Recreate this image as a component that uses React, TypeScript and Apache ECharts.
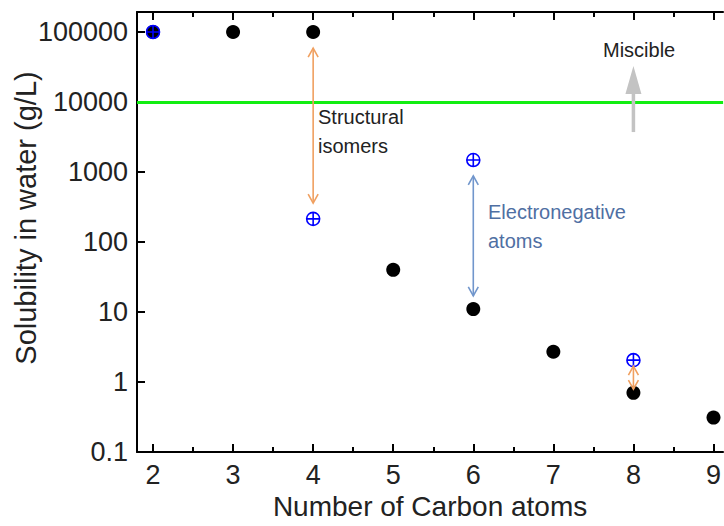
import React, { useEffect, useRef } from "react";
import * as echarts from "echarts";

// ---- data ----
const carbons = [2, 3, 4, 5, 6, 7, 8, 9];
const alcoholSolubility = [100000, 100000, 100000, 40, 11, 2.7, 0.7, 0.31];
const isomerCarbons = [2, 4, 6, 8];
const isomerSolubility = [100000, 214, 1480, 2.05];
const miscibleLimit = 10000;
const xTickValues = [2, 3, 4, 5, 6, 7, 8, 9];
const xMinorTickValues = [2.5, 3.5, 4.5, 5.5, 6.5, 7.5, 8.5];
const yTickValues = [0.1, 1, 10, 100, 1000, 10000, 100000];
const xMin = 1.8;
const xMax = 9.12;
const yMin = 0.1;
const yMax = 193000;
// arrows: carbon number, upper end, lower end
const arrowX = [4, 6, 8, 8];
const arrowTop = [59000, 877, 1.69, 32700];
const arrowBottom = [360, 17, 0.79, 3720];
const arrowKinds = ["orange", "blue", "orange", "grey"];

const FONT = "'Liberation Sans', Arial, sans-serif";
const lg = (v: number) => Math.log10(v);

export default function App() {
  const ref = useRef<HTMLDivElement>(null);
  useEffect(() => {
    if (!ref.current) return;
    const chart = echarts.init(ref.current, null, { renderer: "svg" });
    const fmtY = (v: number) => {
      const val = yTickValues.find((t) => Math.abs(lg(t) - v) < 1e-6);
      return val === undefined ? "" : String(val);
    };
    const arrowStyles: Record<string, any> = {
      orange: { color: "#f0a060", width: 1.6, hw: 5, hl: 9 },
      blue: { color: "#7196cc", width: 1.6, hw: 5, hl: 9 },
      grey: { color: "#c3c3c3", width: 3.5, hw: 8, hl: 28 },
    };
    const axisLine = () => ({ show: true, onZero: false, lineStyle: { color: "#000", width: 2 } });
    const hiddenLine = () => ({ show: false, onZero: false });
    const majorTick = (vals: number[]) => ({
      show: true,
      inside: true,
      length: 8,
      customValues: vals,
      lineStyle: { color: "#000", width: 2 },
    });
    const minorTick = () => ({
      show: true,
      inside: true,
      length: 5,
      customValues: xMinorTickValues,
      lineStyle: { color: "#000", width: 2 },
    });
    const baseX = () => ({
      type: "value",
      min: xMin,
      max: xMax,
      splitLine: { show: false },
    });
    chart.setOption({
      animation: false,
      backgroundColor: "#ffffff",
      grid: { left: 137, top: 12, right: 0, bottom: 74 },
      xAxis: [
        {
          ...baseX(),
          position: "bottom",
          name: "Number of Carbon atoms",
          nameLocation: "middle",
          nameGap: 35,
          nameTextStyle: { fontFamily: FONT, fontSize: 28, color: "#222" },
          axisLine: axisLine(),
          axisTick: majorTick(xTickValues),
          axisLabel: {
            fontFamily: FONT,
            fontSize: 27,
            color: "#222",
            margin: 9,
            customValues: xTickValues,
            formatter: (v: number) => String(Math.round(v)),
          },
        },
        { ...baseX(), position: "bottom", axisLine: hiddenLine(), axisTick: minorTick(), axisLabel: { show: false } },
        { ...baseX(), position: "top", axisLine: axisLine(), axisTick: majorTick(xTickValues), axisLabel: { show: false } },
        { ...baseX(), position: "top", axisLine: hiddenLine(), axisTick: minorTick(), axisLabel: { show: false } },
      ],
      yAxis: [
        {
          type: "value",
          min: lg(yMin),
          max: lg(yMax),
          axisLine: axisLine(),
          axisTick: majorTick(yTickValues.map(lg)),
          axisLabel: {
            fontFamily: FONT,
            fontSize: 27,
            color: "#222",
            margin: 9,
            customValues: yTickValues.map(lg),
            formatter: fmtY,
          },
          splitLine: { show: false },
        },
      ],
      series: [
        {
          type: "scatter",
          data: carbons.map((c, i) => [c, lg(alcoholSolubility[i])]),
          symbol: "circle",
          symbolSize: 14,
          itemStyle: { color: "#000", opacity: 1 },
          z: 3,
          markLine: {
            silent: true,
            symbol: "none",
            label: { show: false },
            lineStyle: { color: "#11ee11", width: 3, type: "solid" },
            data: [{ yAxis: lg(miscibleLimit) }],
          },
        },
        {
          type: "scatter",
          data: isomerCarbons.map((c, i) => [c, lg(isomerSolubility[i])]),
          symbol: "path://M0,-10A10,10,0,1,1,0,10A10,10,0,1,1,0,-10ZM-10,0L10,0M0,-10L0,10",
          symbolSize: 13,
          itemStyle: { color: "rgba(0,0,0,0)", borderColor: "#0000ff", borderWidth: 1.6, opacity: 1 },
          z: 4,
        },
        {
          type: "custom",
          z: 5,
          data: arrowX.map((x, i) => [x, lg(arrowTop[i]), lg(arrowBottom[i])]),
          encode: { x: 0, y: [1, 2] },
          renderItem: (params: any, api: any) => {
            const x = api.value(0);
            const t = api.coord([x, api.value(1)]);
            const b = api.coord([x, api.value(2)]);
            const kind = arrowKinds[params.dataIndex];
            const s = arrowStyles[kind];
            if (kind === "grey") {
              return {
                type: "group",
                children: [
                  {
                    type: "line",
                    shape: { x1: b[0], y1: b[1], x2: t[0], y2: t[1] + s.hl - 2 },
                    style: { stroke: s.color, lineWidth: s.width },
                  },
                  {
                    type: "polygon",
                    shape: {
                      points: [
                        [t[0], t[1]],
                        [t[0] - s.hw, t[1] + s.hl],
                        [t[0] + s.hw, t[1] + s.hl],
                      ],
                    },
                    style: { fill: s.color },
                  },
                ],
              };
            }
            return {
              type: "group",
              children: [
                {
                  type: "line",
                  shape: { x1: t[0], y1: t[1], x2: b[0], y2: b[1] },
                  style: { stroke: s.color, lineWidth: s.width },
                },
                {
                  type: "polyline",
                  shape: {
                    points: [
                      [t[0] - s.hw, t[1] + s.hl],
                      [t[0], t[1]],
                      [t[0] + s.hw, t[1] + s.hl],
                    ],
                  },
                  style: { stroke: s.color, lineWidth: s.width, fill: "none" },
                },
                {
                  type: "polyline",
                  shape: {
                    points: [
                      [b[0] - s.hw, b[1] - s.hl],
                      [b[0], b[1]],
                      [b[0] + s.hw, b[1] - s.hl],
                    ],
                  },
                  style: { stroke: s.color, lineWidth: s.width, fill: "none" },
                },
              ],
            };
          },
        },
      ],
      graphic: [
        {
          type: "text",
          x: 26,
          y: 218,
          rotation: Math.PI / 2,
          style: {
            text: "Solubility in water (g/L)",
            fontFamily: FONT,
            fontSize: 29,
            fill: "#222",
            align: "center",
            verticalAlign: "middle",
          },
        },
        {
          type: "text",
          x: 318,
          y: 117,
          style: { text: "Structural", fontFamily: FONT, fontSize: 20, fill: "#222", verticalAlign: "middle" },
        },
        {
          type: "text",
          x: 318,
          y: 146,
          style: { text: "isomers", fontFamily: FONT, fontSize: 20, fill: "#222", verticalAlign: "middle" },
        },
        {
          type: "text",
          x: 488,
          y: 212,
          style: { text: "Electronegative", fontFamily: FONT, fontSize: 20, fill: "#4f6fa3", verticalAlign: "middle" },
        },
        {
          type: "text",
          x: 488,
          y: 241,
          style: { text: "atoms", fontFamily: FONT, fontSize: 20, fill: "#4f6fa3", verticalAlign: "middle" },
        },
        {
          type: "text",
          x: 603,
          y: 50,
          style: { text: "Miscible", fontFamily: FONT, fontSize: 20, fill: "#222", verticalAlign: "middle" },
        },
      ],
    });
    return () => chart.dispose();
  }, []);
  return <div ref={ref} style={{ position: "fixed", left: 0, top: 0, width: 724, height: 526 }} />;
}
